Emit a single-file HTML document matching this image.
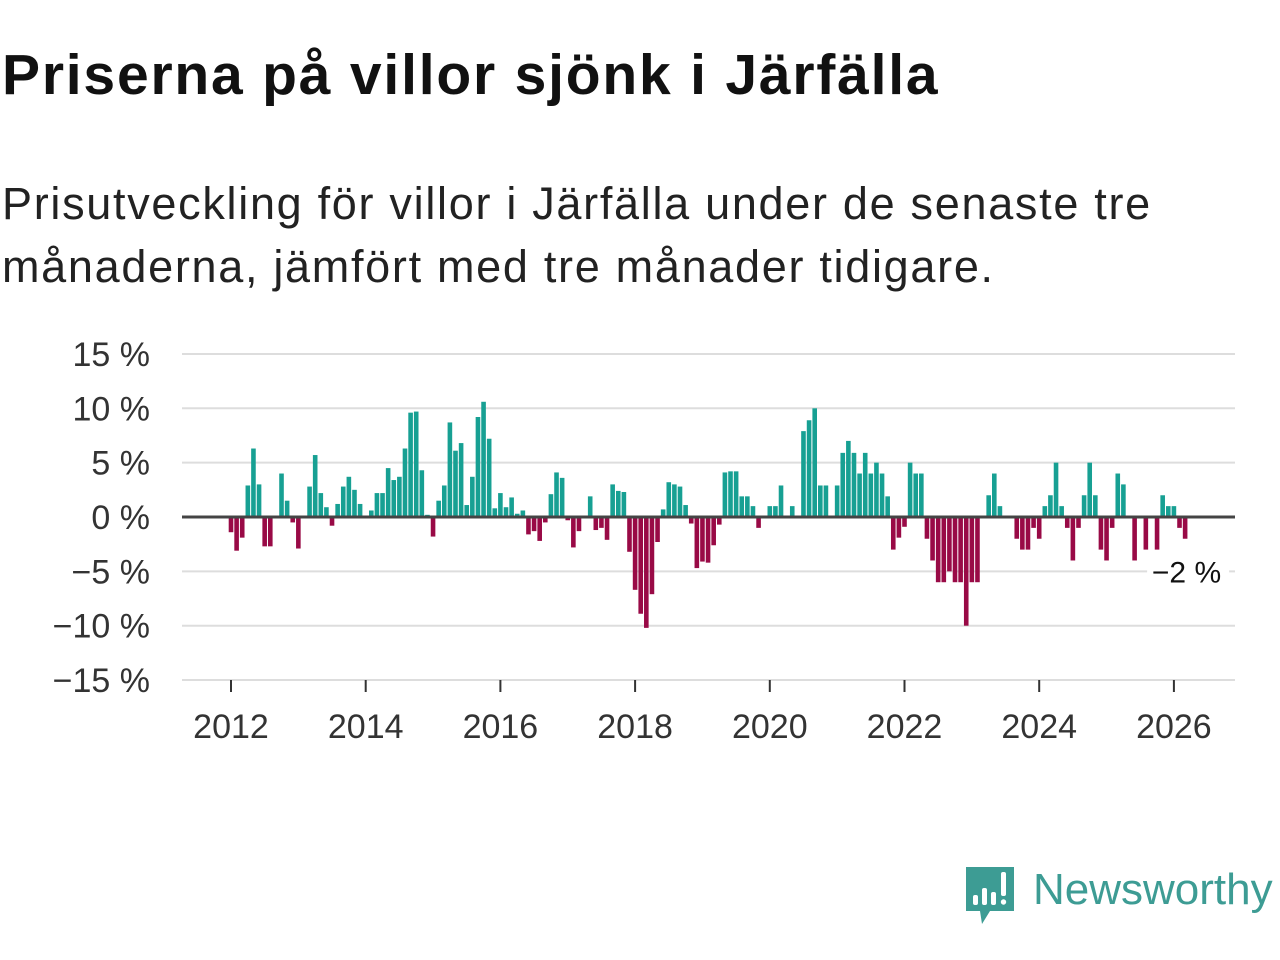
<!DOCTYPE html>
<html><head><meta charset="utf-8">
<style>
body{margin:0;background:#fff;width:1280px;height:960px;overflow:hidden;font-family:"Liberation Sans",sans-serif;}
#title{position:absolute;left:2px;top:42px;font-size:57px;font-weight:bold;color:#111;letter-spacing:1.8px;white-space:nowrap;}
#sub{position:absolute;left:2px;top:172px;font-size:45px;line-height:63px;color:#222;width:1190px;letter-spacing:1.7px;}
svg{position:absolute;left:0;top:0;}
</style></head><body>
<div id="title">Priserna på villor sjönk i Järfälla</div>
<div id="sub">Prisutveckling för villor i Järfälla under de senaste tre månaderna, jämfört med tre månader tidigare.</div>
<svg id="chart" width="1280" height="960"></svg>
<script>
const startYear = 2012;
const values = [
-1.4,-3.1,-1.9,2.9,6.3,3.0,-2.7,-2.7,0,4.0,1.5,-0.5,
-2.9,0,2.8,5.7,2.2,0.9,-0.8,1.2,2.8,3.7,2.5,1.2,
0,0.6,2.2,2.2,4.5,3.4,3.7,6.3,9.6,9.7,4.3,0.2,
-1.8,1.5,2.9,8.7,6.1,6.8,1.1,3.7,9.2,10.6,7.2,0.8,
2.2,0.9,1.8,0.3,0.6,-1.6,-1.3,-2.2,-0.5,2.1,4.1,3.6,
-0.3,-2.8,-1.3,0.1,1.9,-1.2,-1.0,-2.1,3.0,2.4,2.3,-3.2,
-6.7,-8.9,-10.2,-7.1,-2.3,0.7,3.2,3.0,2.8,1.1,-0.6,-4.7,
-4.1,-4.2,-2.6,-0.7,4.1,4.2,4.2,1.9,1.9,1.0,-1.0,0,
1.0,1.0,2.9,0,1.0,0,7.9,8.9,10.0,2.9,2.9,0,
2.9,5.9,7.0,5.9,4.0,5.9,4.0,5.0,4.0,1.9,-3.0,-1.9,
-0.9,5.0,4.0,4.0,-2.0,-4.0,-6.0,-6.0,-5.0,-6.0,-6.0,-10.0,
-6.0,-6.0,0,2.0,4.0,1.0,0,0,-2.0,-3.0,-3.0,-1.0,
-2.0,1.0,2.0,5.0,1.0,-1.0,-4.0,-1.0,2.0,5.0,2.0,-3.0,
-4.0,-1.0,4.0,3.0,0,-4.0,0,-3.0,0,-3.0,2.0,1.0,
1.0,-1.0,-2.0
];
const yTicks = [15,10,5,0,-5,-10,-15];
const xTicks = [2012,2014,2016,2018,2020,2022,2024,2026];
const lastLabel = "−2 %";

const svg = document.getElementById('chart');
const NS = 'http://www.w3.org/2000/svg';
const X0 = 231, PX_YEAR = 67.35;
function x(t){ return X0 + (t - startYear) * PX_YEAR; }
function y(v){ return 517 - v * 10.87; }
function mk(tag, attrs){ const e=document.createElementNS(NS,tag); for(const k in attrs) e.setAttribute(k,attrs[k]); svg.appendChild(e); return e; }

yTicks.forEach(v=>{
  const g = mk('line',{x1:182,x2:1235,y1:y(v),y2:y(v),stroke:'#dddddd','stroke-width':2});
  
  
  const t = mk('text',{x:150,y:y(v)+12,'text-anchor':'end','font-size':34,fill:'#333','font-family':'Liberation Sans, sans-serif'});
  t.textContent = (v<0?'−'+(-v):v)+' %';
  
  
});
xTicks.forEach(yr=>{
  const l = mk('line',{x1:x(yr),x2:x(yr),y1:680,y2:692,stroke:'#333','stroke-width':2});
  
  
  const t = mk('text',{x:x(yr),y:738,'text-anchor':'middle','font-size':34,fill:'#333','font-family':'Liberation Sans, sans-serif'});
  t.textContent = yr;
  
  
});
const bw = 4.6;
values.forEach((v,i)=>{
  if(v===0) return;
  const cx = x(startYear + i/12);
  const r = mk('rect',{x:cx-bw/2,width:bw,y:Math.min(y(v),y(0)),height:Math.abs(y(v)-y(0)),fill:v>0?'#17a093':'#990a46'});
  
  
});
const z = mk('line',{x1:182,x2:1235,y1:y(0),y2:y(0),stroke:'#444','stroke-width':3});


const lx = x(startYear + (values.length-1)/12);
const bg = mk('rect',{x:lx-38,y:y(-5)-20,width:82,height:40,fill:'#fff'});


const lt = mk('text',{x:lx+36,y:y(-5)+11,'text-anchor':'end','font-size':30,fill:'#111','font-family':'Liberation Sans, sans-serif'});
lt.textContent = lastLabel;


</script>
<svg width="1280" height="960" style="pointer-events:none">
  <path d="M966,867 h48 v44 h-24 l-8,13 l-2,-13 h-14 z" fill="#3d9c94"/>
  <rect x="973" y="895" width="5" height="10" rx="2" fill="#fff"/>
  <rect x="982" y="888" width="5" height="17" rx="2" fill="#fff"/>
  <rect x="991" y="892" width="5" height="13" rx="2" fill="#fff"/>
  <rect x="1001" y="872" width="5" height="24" rx="2" fill="#fff"/>
  <circle cx="1003.5" cy="902" r="2.7" fill="#fff"/>
  <text x="1033" y="904" font-size="44" fill="#3d9c94" font-family="Liberation Sans, sans-serif">Newsworthy</text>
</svg>
</body></html>
